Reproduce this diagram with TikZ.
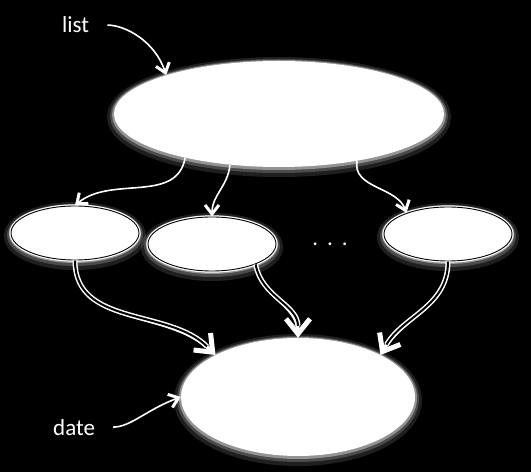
\documentclass[tikz,border=0pt]{standalone}
\usepackage{fontspec}
\setmainfont{Carlito}
\usetikzlibrary{arrows.meta}
\usetikzlibrary{shapes.geometric}

\begin{document}
\begin{tikzpicture}[x=1pt, y=1pt,
  halo/.style={preaction={draw=white, line width=14pt, opacity=0.12, transform canvas={yshift=-3pt}},
               preaction={draw=white, line width=8pt, opacity=0.2, transform canvas={yshift=-2pt}},
               preaction={draw=white, line width=4pt, opacity=0.4, transform canvas={yshift=-1pt}}},
  blob/.style={ellipse, fill=white, inner sep=0pt, halo},
  ring/.style={ellipse, fill=white, draw=white, line width=1.2pt, double=black, double distance=0.9pt,
               inner sep=0pt, minimum width=128pt, minimum height=54pt, halo},
  thin/.style={white, line width=1.6pt, -{Straight Barb[line width=3pt, length=9pt, width=14pt]}},
  tipline/.style={white, line width=3.6pt, -{Straight Barb[line width=5pt, length=15pt, width=24pt]}},
  twin/.style={white, line width=1.5pt, double=black, double distance=2pt, shorten >=12pt},
  tag/.style={text=white, inner sep=0pt, font=\fontsize{23}{27}\selectfont}]
\fill[black] (0, 0) rectangle (531, 472);

\node [blob, minimum width=330pt, minimum height=106pt] (list) at (279, 358) {};
\node [blob, minimum width=234pt, minimum height=118pt] (date) at (298, 75) {};

\node [ring] (itemA) at (75, 239) {};
\node [ring] (itemB) at (212, 228) {};
\node [ring] (itemC) at (448, 238) {};
\node [tag, anchor=base] (dots) at (330, 226) {.\hspace{9pt}.\hspace{9pt}.};

%%%%%%%%%%%%%%%%%%%%%%%%%%%%%%%%%%%%%%%%

\node [tag, anchor=base west] (listtag) at (62, 439) {list};
\node [tag, anchor=base west] (datetag) at (53, 37) {date};
\draw [thin, shorten <=18pt] (listtag.east) to[out=0, in=108] (list.161);
\draw [thin, shorten <=18pt] (datetag.east) to[out=0, in=200] (date.west);

\draw [thin] (list.205) to[out=-100, in=40] (itemA.north);
\draw [thin] (list.226) to[out=-95, in=90] (itemB.north);
\draw [thin] (list.-31) to[out=-100, in=110] (itemC.153);

\foreach \from/\out/\in/\to in {itemA.south/-90/135/date.153,
                                itemB.-25/-80/90/date.north,
                                itemC.south/-90/60/date.27}
{
  \draw [tipline] (\from) to[out=\out, in=\in] (\to);
  \draw [twin] (\from) to[out=\out, in=\in] (\to);
}

\end{tikzpicture}
\end{document}
